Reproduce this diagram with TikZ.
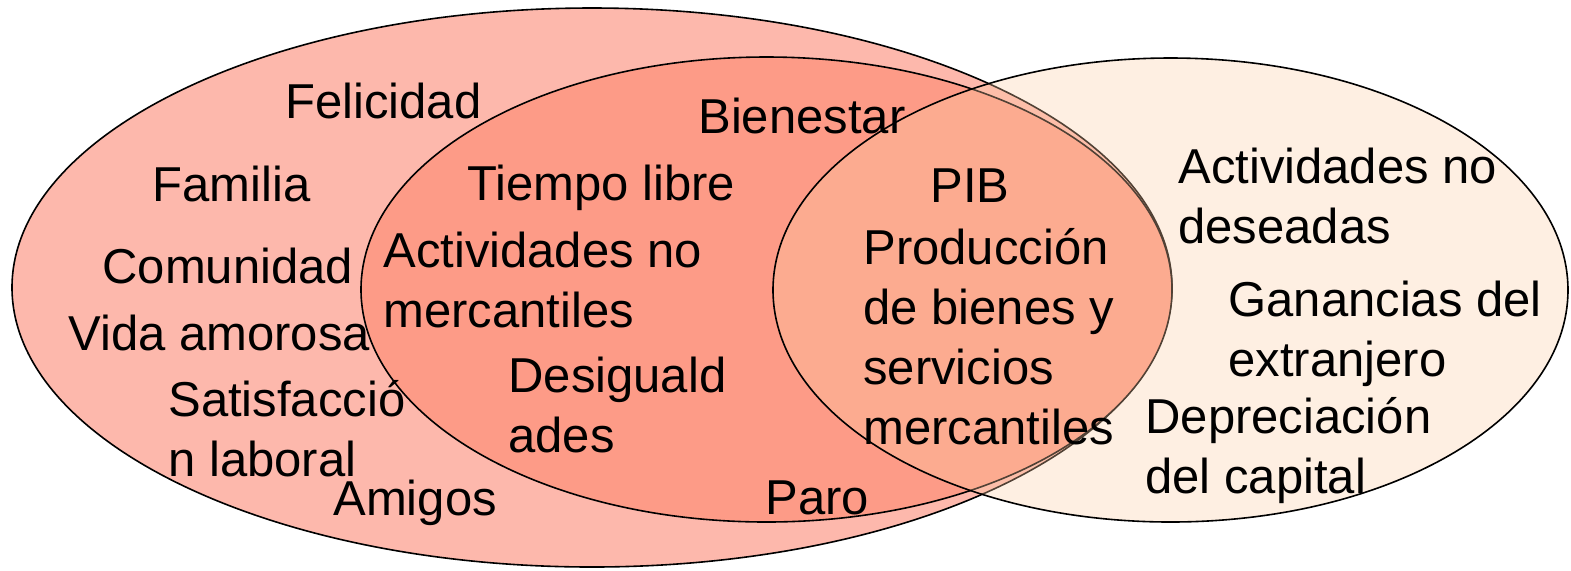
\documentclass[tikz,border=0pt]{standalone}
\usepackage{fontspec}
\setmainfont{Liberation Sans}
\usepackage{tikz}

\definecolor{bigfill}{RGB}{253,184,172}
\definecolor{midfill}{RGB}{253,155,135}
\definecolor{pibfill}{RGB}{252,205,165}

\begin{document}
\begin{tikzpicture}[
        x=0.5pt, y=-0.5pt,
        every node/.style={anchor=base west, inner sep=0pt, align=left,
                           font=\fontsize{24.5}{30}\selectfont},
        ring/.style={draw=black, line width=0.8pt}
        ]
        \useasboundingbox (0,0) rectangle (1571,570);

        % the three sets
        \draw[ring, fill=bigfill] (592,287.5) ellipse [x radius=580, y radius=279.5];
        \draw[ring, fill=midfill] (766.5,289.5) ellipse [x radius=405.5, y radius=232.5];
        \draw[ring, fill=pibfill, fill opacity=0.32] (1170.5,290) ellipse [x radius=397.5, y radius=232];

        % outer set (multi-line texts sit on their last line)
        \node (felicidad) at (285,118) {Felicidad};
        \node (familia) at (152,201) {Familia};
        \node (comunidad) at (102,283) {Comunidad};
        \node (vida) at (68,350) {Vida amorosa};
        \node (satisf) at (168,476) {Satisfacció\\n laboral};
        \node (amigos) at (333,515) {Amigos};

        % middle set
        \node (bienestar) at (698,133) {Bienestar};
        \node (tiempo) at (467,200) {Tiempo libre};
        \node (nomerc) at (383,327) {Actividades no\\mercantiles};
        \node (desig) at (508,452) {Desiguald\\ades};
        \node (paro) at (765,514) {Paro};

        % right set
        \node (pib) at (930,202) {PIB};
        \node (produccion) at (863,444) {Producción\\de bienes y\\servicios\\mercantiles};
        \node (nodeseadas) at (1178,243) {Actividades no\\deseadas};
        \node (ganancias) at (1228,376) {Ganancias del\\extranjero};
        \node (deprec) at (1145,493) {Depreciación\\del capital};
\end{tikzpicture}
\end{document}
